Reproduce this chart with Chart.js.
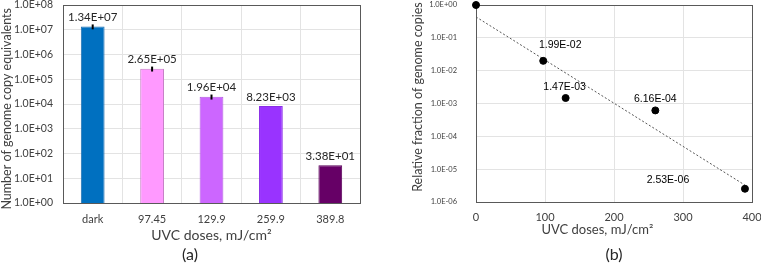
<!DOCTYPE html>
<html><head><meta charset="utf-8">
<script src="https://cdn.jsdelivr.net/npm/chart.js@4/dist/chart.umd.min.js"></script>
<style>
html,body{margin:0;padding:0;background:#fff;}
#wrap{position:relative;width:761px;height:263px;overflow:hidden;background:#fff;}
#a{position:absolute;left:0;top:0;}
#b{position:absolute;left:380px;top:0;}
</style></head><body>
<div id="wrap"><canvas id="a" width="380" height="263"></canvas><canvas id="b" width="381" height="263"></canvas></div>
<script>
// ---- Panel (a) data ----
const doseCategories = ['dark', '97.45', '129.9', '259.9', '389.8'];
const copyValues = [1.34e7, 2.65e5, 1.96e4, 8.23e3, 3.38e1];
const copyErrors = [3.0e6, 6.0e4, 4.5e3, 0, 0];
const copyLabels = ['1.34E+07', '2.65E+05', '1.96E+04', '8.23E+03', '3.38E+01'];
const leftYTickValues = [1, 1e1, 1e2, 1e3, 1e4, 1e5, 1e6, 1e7, 1e8];
const leftYTickLabels = ['1.0E+00', '1.0E+01', '1.0E+02', '1.0E+03', '1.0E+04', '1.0E+05', '1.0E+06', '1.0E+07', '1.0E+08'];

// ---- Panel (b) data ----
const doseValues = [0, 97.45, 129.9, 259.9, 389.8];
const fractionValues = [1.0, 1.99e-2, 1.47e-3, 6.16e-4, 2.53e-6];
const fractionLabels = ['', '1.99E-02', '1.47E-03', '6.16E-04', '2.53E-06'];
const rightYTickValues = [1e-6, 1e-5, 1e-4, 1e-3, 1e-2, 1e-1, 1];
const rightYTickLabels = ['1.0E-06', '1.0E-05', '1.0E-04', '1.0E-03', '1.0E-02', '1.0E-01', '1.0E+00'];
const rightXTickValues = [0, 100, 200, 300, 400];

Chart.defaults.font.family = 'Lato';
Chart.defaults.color = '#404040';

function noPad(s) { s.paddingTop = 0; s.paddingBottom = 0; s.paddingLeft = 0; s.paddingRight = 0; }

const boxPlugin = {
  id: 'box',
  beforeDatasetsDraw(chart, args, opts) {
    const a = chart.chartArea, ctx = chart.ctx;
    ctx.save();
    ctx.strokeStyle = opts.color || '#595959';
    ctx.lineWidth = 1;
    ctx.strokeRect(Math.round(a.left) + 0.5, Math.round(a.top) + 0.5, Math.round(a.right - a.left), Math.round(a.bottom - a.top));
    ctx.restore();
  }
};

const captionPlugin = {
  id: 'caption',
  afterDraw(chart, args, opts) {
    const ctx = chart.ctx, a = chart.chartArea;
    const x = opts.center === 'area' ? (a.left + a.right) / 2 : chart.width / 2;
    ctx.save();
    ctx.fillStyle = '#262626';
    ctx.font = '16px Lato';
    ctx.textAlign = 'center';
    ctx.textBaseline = 'middle';
    ctx.fillText(opts.text, x, chart.height - 8.5);
    ctx.restore();
  }
};

const barExtras = {
  id: 'barExtras',
  afterDatasetsDraw(chart) {
    const ctx = chart.ctx, y = chart.scales.y;
    const meta = chart.getDatasetMeta(0);
    ctx.save();
    meta.data.forEach((bar, i) => {
      const err = copyErrors[i];
      if (err > 0) {
        ctx.strokeStyle = '#000';
        ctx.lineWidth = 2;
        ctx.beginPath();
        ctx.moveTo(bar.x, y.getPixelForValue(copyValues[i] + err));
        ctx.lineTo(bar.x, y.getPixelForValue(copyValues[i] - err));
        ctx.stroke();
      }
      ctx.fillStyle = '#262626';
      ctx.font = '11.5px Lato';
      ctx.textAlign = 'center';
      ctx.textBaseline = 'middle';
      ctx.fillText(copyLabels[i], bar.x, bar.y - 9);
    });
    ctx.restore();
  }
};

new Chart(document.getElementById('a'), {
  type: 'bar',
  data: {
    labels: doseCategories,
    datasets: [{
      data: copyValues,
      backgroundColor: ['#0070C0', '#FF99FF', '#CC66FF', '#9933FF', '#660066'],
      borderColor: ['#1F6FB0', '#C77DC7', '#B45CE0', '#8A2EE6', '#5A005A'],
      borderWidth: 1,
      barPercentage: 0.4,
      categoryPercentage: 1.0
    }]
  },
  options: {
    responsive: false,
    animation: false,
    devicePixelRatio: 1,
    layout: { padding: { top: 5, right: 20, left: 0, bottom: 19.2 } },
    scales: {
      x: {
        type: 'category',
        grid: { color: '#E3E3E3', drawTicks: false, offset: true },
        border: { display: false },
        ticks: { padding: 9.4, font: { size: 11 }, color: '#404040' },
        title: { display: true, text: 'UVC doses, mJ/cm²', font: { size: 14 }, color: '#404040', padding: { top: 0, bottom: 0 } },
        afterFit(s) { s.height = 40.8; noPad(s); }
      },
      y: {
        type: 'logarithmic',
        min: 1, max: 1e8,
        afterBuildTicks(s) { s.ticks = leftYTickValues.map(v => ({ value: v })); },
        ticks: { padding: 10, font: { size: 10.5 }, color: '#404040', callback: (v) => leftYTickLabels[leftYTickValues.indexOf(v)] },
        grid: { color: '#E3E3E3', drawTicks: false },
        border: { display: false },
        title: { display: true, text: 'Number of genome copy equivalents\u00a0\u00a0\u00a0', font: { size: 12.5, lineHeight: 1 }, color: '#404040', padding: { top: 0.5, bottom: 0 } },
        afterFit(s) { s.width = 63; noPad(s); }
      }
    },
    plugins: {
      legend: { display: false },
      tooltip: { enabled: false },
      box: { color: '#595959' },
      caption: { text: '(a)', center: 'canvas' }
    }
  },
  plugins: [boxPlugin, barExtras, captionPlugin]
});

// regression (exponential trendline) computed from the data
const lx = doseValues, ly = fractionValues.map(v => Math.log10(v));
const mx = lx.reduce((a, b) => a + b, 0) / lx.length, my = ly.reduce((a, b) => a + b, 0) / ly.length;
let sxy = 0, sxx = 0;
lx.forEach((x, i) => { sxy += (x - mx) * (ly[i] - my); sxx += (x - mx) * (x - mx); });
const slope = sxy / sxx, intercept = my - slope * mx;
const trendX = [doseValues[0], doseValues[doseValues.length - 1]];

const pointLabels = {
  id: 'pointLabels',
  afterDatasetsDraw(chart, args, opts) {
    const ctx = chart.ctx;
    const meta = chart.getDatasetMeta(1);
    ctx.save();
    ctx.fillStyle = '#000';
    ctx.font = '10.5px "Liberation Sans", Arial, sans-serif';
    ctx.textAlign = 'center';
    ctx.textBaseline = 'middle';
    meta.data.forEach((pt, i) => {
      if (!fractionLabels[i]) return;
      const o = opts.offsets[i];
      ctx.fillText(fractionLabels[i], pt.x + o[0], pt.y + o[1]);
    });
    ctx.restore();
  }
};

new Chart(document.getElementById('b'), {
  type: 'scatter',
  data: {
    datasets: [{
      type: 'line',
      data: trendX.map(x => ({ x: x, y: Math.pow(10, intercept + slope * x) })),
      borderColor: '#555',
      borderWidth: 1,
      borderDash: [2, 2],
      pointRadius: 0,
      fill: false,
      order: 2
    }, {
      data: doseValues.map((x, i) => ({ x: x, y: fractionValues[i] })),
      backgroundColor: '#000',
      borderColor: '#000',
      pointRadius: 3.5,
      clip: false,
      order: 1
    }]
  },
  options: {
    responsive: false,
    animation: false,
    devicePixelRatio: 1,
    layout: { padding: { top: 5, right: 9, left: 0, bottom: 19.2 } },
    scales: {
      x: {
        type: 'linear',
        min: 0, max: 400,
        afterBuildTicks(s) { s.ticks = rightXTickValues.map(v => ({ value: v })); },
        grid: { color: '#E3E3E3', drawTicks: false },
        border: { display: false },
        ticks: { padding: 8.4, font: { size: 11 }, color: '#404040' },
        title: { display: true, text: 'UVC doses, mJ/cm²\u00a0\u00a0\u00a0\u00a0\u00a0\u00a0\u00a0\u00a0\u00a0\u00a0', font: { size: 13 }, color: '#404040', padding: { top: 0, bottom: 6 } },
        afterFit(s) { s.height = 41.8; noPad(s); }
      },
      y: {
        type: 'logarithmic',
        min: 1e-6, max: 1,
        afterBuildTicks(s) { s.ticks = rightYTickValues.map(v => ({ value: v })); },
        ticks: { padding: 19, font: { size: 7.5 }, color: '#404040', callback: (v) => rightYTickLabels[rightYTickValues.indexOf(v)] },
        grid: { color: '#E3E3E3', drawTicks: false },
        border: { display: false },
        title: { display: true, text: '\u00a0\u00a0\u00a0\u00a0Relative fraction of genome copies', font: { size: 12.5 }, color: '#404040', padding: { top: 30.5, bottom: 0 } },
        afterFit(s) { s.width = 96; noPad(s); }
      }
    },
    plugins: {
      legend: { display: false },
      tooltip: { enabled: false },
      box: { color: '#595959' },
      caption: { text: '(b)', center: 'area' },
      pointLabels: { offsets: [[0, 0], [17, -16], [-1, -11], [0, -11], [-77, -9]] }
    }
  },
  plugins: [boxPlugin, pointLabels, captionPlugin]
});
</script>
</body></html>
